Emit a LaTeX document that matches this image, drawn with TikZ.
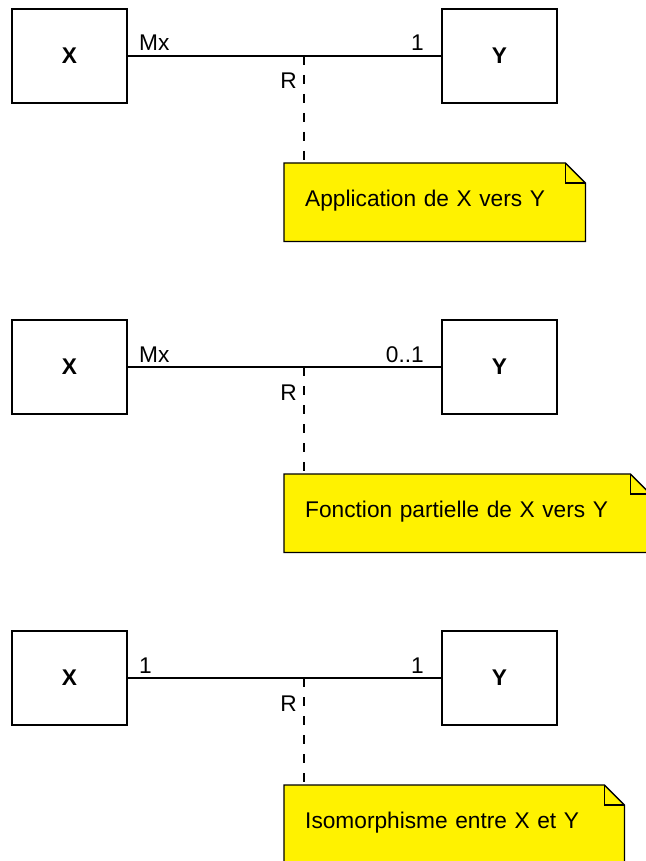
\documentclass[tikz,border=0pt]{standalone}
\usepackage{fontspec}
\setmainfont{Liberation Sans}
\pgfdeclarelayer{bg}
\pgfsetlayers{bg,main}
\begin{document}
\begin{tikzpicture}[x=1pt,y=-1pt,
  txt/.style={font=\fontsize{22.7}{27}\selectfont},
  entity/.style={draw, line width=1.3pt, minimum width=115pt, minimum height=94pt,
    inner sep=0pt, font=\fontsize{22.7}{27}\selectfont\bfseries},
  assoc/.style={line width=1.3pt},
  link/.style={line width=1.3pt, dash pattern=on 9pt off 10pt},
  multl/.style={txt, inner sep=0pt, anchor=base west},
  multr/.style={txt, inner sep=0pt, anchor=base east},
  notebox/.style={txt, anchor=north west, inner xsep=21pt, inner ysep=0pt,
    text height=43pt, text depth=35pt, align=left},
  notepath/.style={line width=1.3pt, fill=yellow, line join=miter},
]
\useasboundingbox (0,0) rectangle (645,861);
\clip (0,0) rectangle (645,861);

\foreach \dy/\ml/\mr/\nw/\nt [count=\i] in {
  0/Mx/1/259/{Application de X vers Y},
  311/Mx/0..1/324/{Fonction partielle de X vers Y},
  622/1/1/298/{Isomorphisme entre X et Y}}{
  \node[entity] (x\i) at (69.5,56+\dy) {X};
  \node[entity] (y\i) at (499.5,56+\dy) {Y};
  \draw[assoc] (x\i) -- (y\i);
  \node[multl] (ml\i) at (139,51+\dy) {\ml};
  \node[multr] (mr\i) at (424,51+\dy) {\mr};
  \coordinate (m\i) at (304,56+\dy);
  \node[txt, inner sep=0pt, anchor=base east] (r\i) at (297,89+\dy) {R};
  \node[notebox, text width=\nw pt] (n\i) at (284,163+\dy) {\nt};
  \begin{pgfonlayer}{bg}
    \draw[notepath] (n\i.north west) -- ([xshift=-20pt]n\i.north east)
      -- ([yshift=-20pt]n\i.north east) -- (n\i.south east)
      -- (n\i.south west) -- cycle;
    \draw[line width=1.3pt] ([xshift=-20pt]n\i.north east) |- ([yshift=-20pt]n\i.north east);
  \end{pgfonlayer}
  \draw[link] (m\i) -- (m\i |- n\i.north);
}
\end{tikzpicture}
\end{document}
